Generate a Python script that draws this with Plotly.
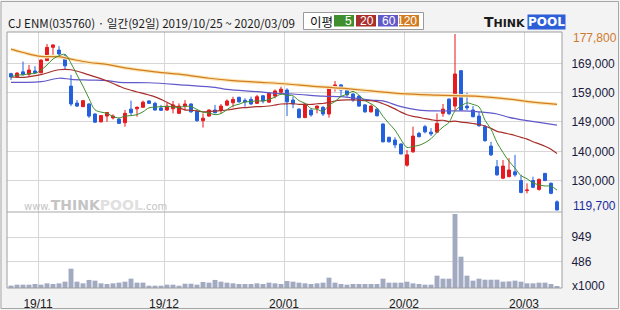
import pandas as pd
import plotly.graph_objects as go

# ---------------- data ----------------
holidays = ['2019-12-25', '2019-12-31', '2020-01-01', '2020-01-24', '2020-01-27']
dates = [d for d in pd.bdate_range('2019-10-25', '2020-03-09') if d.strftime('%Y-%m-%d') not in holidays]

opens = [164700, 163700, 165300, 164500, 165600, 165000, 169000, 173400, 172500, 170500,
         160600, 155000, 153800, 154700, 151400, 148800, 150700, 150100, 149700, 148500,
         153000, 153100, 153600, 155700, 154900, 153400, 152700, 153100, 151600, 154000,
         154700, 152300, 149200, 150700, 152700, 152700, 154300, 155100, 156900, 155900,
         156200, 154900, 157400, 155300, 157300, 158600, 159300, 156000, 153000, 150200,
         152700, 153300, 153600, 151400, 160300, 161000, 159500, 158000, 157300, 154400,
         152100, 153000, 148100, 143700, 142800, 141500, 134500, 138900, 145000, 147200,
         145400, 145400, 151600, 156300, 154000, 165700, 154000, 152700, 150700, 147200,
         140800, 134000, 130200, 130700, 132300, 129400, 126100, 129400, 126500, 131800,
         128500, 122400]
highs = [165000, 165200, 168700, 167600, 167200, 169400, 174500, 174300, 173800, 171200,
         164300, 156000, 155900, 154900, 151600, 151000, 152000, 151300, 150000, 152700,
         155800, 153900, 155800, 155900, 155400, 154400, 155100, 155700, 154900, 156000,
         154900, 152500, 151600, 152900, 154400, 154700, 156200, 157100, 157100, 156600,
         157100, 157700, 157700, 158600, 159500, 160400, 159900, 157100, 153300, 154900,
         152900, 154200, 154000, 160300, 162300, 161200, 159900, 158200, 157600, 154700,
         154500, 153300, 148300, 143900, 143700, 141700, 139500, 147200, 145500, 147800,
         146700, 151600, 154700, 156600, 177800, 165900, 158400, 154000, 152100, 147800,
         142200, 136200, 136200, 136800, 137900, 131300, 128500, 130700, 130100, 131800,
         128800, 122900]
lows = [162600, 163400, 164100, 163700, 164800, 164800, 168900, 170300, 170500, 166100,
        154000, 153700, 153700, 150100, 148500, 148600, 148800, 149600, 148100, 147200,
        151000, 150500, 153500, 154800, 152500, 152400, 152400, 151600, 151500, 152500,
        151800, 148800, 146900, 150500, 151600, 151600, 154000, 153600, 155100, 153800,
        154400, 154700, 154900, 155100, 156600, 158200, 150700, 153300, 150000, 150100,
        150500, 151600, 150700, 150200, 158800, 157100, 157100, 155400, 153800, 151800,
        151900, 150600, 142000, 142000, 140100, 138100, 134000, 138600, 143700, 145000,
        144100, 145100, 150500, 151000, 152700, 152500, 152700, 150300, 147200, 142200,
        137500, 131000, 129900, 130500, 130700, 125200, 125200, 126900, 126100, 129300,
        124900, 119700]
closes = [163600, 164900, 164400, 165900, 165000, 169200, 173400, 174200, 171200, 167300,
          154700, 154000, 155800, 150700, 148700, 150900, 151900, 150700, 148300, 151600,
          151800, 153600, 155300, 154900, 152700, 152600, 154000, 154400, 154000, 154700,
          152100, 149200, 150000, 152700, 151800, 154000, 155700, 156200, 155400, 155400,
          154700, 157100, 155700, 158200, 159000, 159600, 155400, 154700, 150200, 154700,
          151100, 154000, 151400, 160200, 161000, 159300, 157700, 156000, 154000, 152100,
          154000, 150800, 142200, 142200, 141200, 138200, 137900, 144100, 143900, 145500,
          144800, 148300, 153000, 151500, 164600, 152700, 153400, 150500, 147500, 142600,
          137900, 131300, 134200, 132900, 131300, 125500, 126300, 127200, 129800, 129400,
          125200, 119700]
volumes_k = [45, 62, 62, 62, 75, 62, 87, 75, 87, 118,
             360, 118, 87, 150, 137, 87, 75, 87, 100, 118,
             174, 100, 100, 43, 43, 43, 62, 62, 43, 80,
             80, 62, 112, 100, 150, 118, 100, 87, 75, 75,
             75, 87, 75, 100, 87, 75, 130, 118, 100, 87,
             75, 87, 100, 193, 100, 75, 62, 75, 75, 75,
             75, 75, 174, 100, 100, 100, 118, 87, 75, 62,
             62, 230, 174, 174, 1380, 584, 230, 137, 174, 155,
             155, 155, 118, 124, 137, 118, 87, 87, 100, 100,
             75, 37]

# 60 / 120-day averages (day index, price)
ma60_day = [0, 2, 5, 8, 10, 13, 16, 18, 23, 29, 34, 36, 41, 44, 47, 52, 55, 60, 62, 65, 68, 71, 75, 78, 81, 83, 86, 91]
ma60_val = [161850, 161850, 162050, 163200, 162850, 162600, 162400, 161850, 161700, 160900, 160200, 159500,
            158750, 158200, 158000, 157300, 157100, 156000, 155700, 153800, 152700, 152400, 152400, 152100,
            151400, 150300, 149200, 147700]
ma120_day = [0, 2, 5, 8, 10, 13, 16, 19, 24, 29, 33, 37, 41, 46, 50, 55, 60, 65, 71, 78, 83, 87, 91]
ma120_val = [172800, 171700, 170400, 170300, 169500, 168400, 167800, 166600, 165300, 164300, 163200, 162400,
             161900, 161300, 160600, 159900, 159000, 158100, 157600, 157200, 156300, 155300, 154600]
# early part of the 20-day average (needs history before the window)
ma20_early_day = [0, 2, 5, 8, 10, 13, 16, 18]
ma20_early_val = [163600, 163500, 164400, 166000, 166000, 164300, 162300, 160600]

price_ticks = [168060, 158490, 148920, 138950, 129370]
price_ticktext = ['169,000', '159,000', '149,000', '140,000', '130,000']
vol_ticks = [486000, 949000]
vol_ticktext = ['486', '949']
max_label, min_label = '177,800', '119,700'
title_text = 'CJ ENM(035760) · 일간(92일) 2019/10/25 ~ 2020/03/09'
ma_names = ['5', '20', '60', '120']

# ---------------- derived ----------------
idx = list(range(len(dates)))
cl = pd.Series(closes, dtype=float)
ma5 = cl.rolling(5, min_periods=1).mean()
ma20_calc = cl.rolling(20).mean()
ma20_x = ma20_early_day + list(range(19, len(closes)))
ma20_y = ma20_early_val + list(ma20_calc[19:])
volumes = [v * 1000 for v in volumes_k]

month_pos, month_txt = [], []
for i in range(1, len(dates)):
    if dates[i].month != dates[i - 1].month:
        month_pos.append(i - 0.5)
        month_txt.append(dates[i].strftime('%y/%m'))

# ---------------- styling ----------------
RED, BLUE = '#e8191e', '#2360df'
C5, C20, C60, C120 = '#3f8f2e', '#a8302c', '#6159c9', '#d27d22'
GRID = '#d6d6d6'
FONT_NUM = 'Liberation Sans'
FONT_KR = 'Noto Sans CJK KR'

W, H = 620, 310
L, R, T, B = 7, 562, 32, 288
SPLIT = 212


def px(x):
    return (x - L) / (R - L)


def py(y):
    return (B - y) / (B - T)


fig = go.Figure()
fig.add_trace(go.Scatter(x=ma120_day, y=ma120_val, mode='lines', line=dict(color='#fbe6b4', width=3.5, shape='spline'),
                         hoverinfo='skip'))
fig.add_trace(go.Scatter(x=ma120_day, y=ma120_val, mode='lines', line=dict(color=C120, width=1.2, shape='spline')))
fig.add_trace(go.Scatter(x=ma60_day, y=ma60_val, mode='lines', line=dict(color=C60, width=1.2, shape='spline')))
fig.add_trace(go.Scatter(x=ma20_x, y=ma20_y, mode='lines', line=dict(color=C20, width=1.2, shape='spline')))
fig.add_trace(go.Candlestick(x=idx, open=opens, high=highs, low=lows, close=closes,
                             increasing=dict(line=dict(color=RED, width=1), fillcolor=RED),
                             decreasing=dict(line=dict(color=BLUE, width=1), fillcolor=BLUE),
                             whiskerwidth=0, xaxis='x', yaxis='y'))
fig.add_trace(go.Scatter(x=idx, y=ma5, mode='lines', line=dict(color=C5, width=1, shape='spline')))
fig.add_trace(go.Bar(x=idx, y=volumes, marker=dict(color='#a2aac1', line=dict(width=0)), width=0.82,
                     xaxis='x2', yaxis='y2'))

xr = [(L - 11) / 6, (R - 11) / 6]
split_frac = (B - SPLIT) / (B - T)
fig.update_layout(
    width=W, height=H, margin=dict(l=L, r=W - R, t=T, b=H - B, autoexpand=False),
    paper_bgcolor='#f3f3f3', plot_bgcolor='white', showlegend=False, boxgap=0.3,
    font=dict(family=FONT_NUM, size=12, color='#1a1a40'),
    xaxis=dict(domain=[0, 1], anchor='y', range=xr, tickvals=month_pos, showticklabels=False, automargin=False,
               showgrid=True, gridcolor=GRID, gridwidth=1, zeroline=False, rangeslider=dict(visible=False), ticks=''),
    xaxis2=dict(domain=[0, 1], anchor='y2', range=xr, matches='x', tickvals=month_pos, ticktext=month_txt,
                automargin=False, showgrid=True, gridcolor=GRID, zeroline=False, ticks='outside', ticklen=5,
                tickcolor='rgba(0,0,0,0)', tickfont=dict(size=12, color='#202020')),
    yaxis=dict(domain=[split_frac, 1], anchor='x', range=[119040, 178460], side='right', automargin=False,
               tickvals=price_ticks, ticktext=price_ticktext, showgrid=True, gridcolor=GRID, zeroline=False,
               ticks='outside', ticklen=6, tickcolor='rgba(0,0,0,0)', tickfont=dict(size=12, color='#1a1a40')),
    yaxis2=dict(domain=[0, split_frac], anchor='x2', range=[0, 1417000], side='right', automargin=False,
                tickvals=vol_ticks, ticktext=vol_ticktext, showgrid=True, gridcolor=GRID, zeroline=False,
                ticks='outside', ticklen=6, tickcolor='rgba(0,0,0,0)', tickfont=dict(size=12, color='#1a1a40')),
)

shapes = [
    dict(type='rect', xref='paper', yref='paper', x0=px(1), x1=px(618.5), y0=py(308.5), y1=py(1.5),
         line=dict(color='#a6a6a6', width=1)),
    dict(type='rect', xref='paper', yref='paper', x0=0, x1=1, y0=0, y1=1, line=dict(color='#9e9e9e', width=1)),
    dict(type='line', xref='paper', yref='paper', x0=0, x1=1, y0=split_frac, y1=split_frac,
         line=dict(color='#a8a8a8', width=1)),
    dict(type='rect', xref='paper', yref='paper', x0=px(303.5), x1=px(423.5), y0=py(29.5), y1=py(12.5),
         line=dict(color='#9a9a9a', width=1), fillcolor='white'),
]
box_cols = [C5, C20, C60, C120]
box_x0 = [334, 356, 378, 399]
annotations = []
for x0, col, name in zip(box_x0, box_cols, ma_names):
    shapes.append(dict(type='rect', xref='paper', yref='paper', x0=px(x0), x1=px(x0 + 20), y0=py(26.5), y1=py(15),
                       line=dict(width=0), fillcolor=col))
    annotations.append(dict(xref='paper', yref='paper', x=px(x0 + 19.5), y=py(21), xanchor='right', yanchor='middle',
                            text=name, showarrow=False, font=dict(family=FONT_NUM, size=12, color='white')))

annotations += [
    dict(xref='paper', yref='paper', x=px(6), y=py(22.5), xanchor='left', yanchor='middle', text=title_text,
         showarrow=False, font=dict(family=FONT_KR, size=11.6, color='#1a1a1a')),
    dict(xref='paper', yref='paper', x=px(308), y=py(21), xanchor='left', yanchor='middle', text='이평',
         showarrow=False, font=dict(family=FONT_KR, size=12.5, color='#111111')),
    dict(xref='paper', yref='paper', x=px(482), y=py(21.5), xanchor='left', yanchor='middle',
         text="<b>T<span style='font-size:11px'>HINK</span></b>",
         showarrow=False, font=dict(family='DejaVu Sans', size=14, color='#1b1b1b')),
    dict(xref='paper', yref='paper', x=px(527), y=py(21.5), xanchor='left', yanchor='middle',
         text='<b>POOL</b>', bgcolor='#2c5fd8', borderpad=0,
         showarrow=False, font=dict(family='DejaVu Sans', size=12, color='white')),
    dict(xref='paper', yref='paper', x=px(22), y=py(204.5), xanchor='left', yanchor='middle',
         text="<span style='font-size:10px'>www.</span><b>THINK</b><b><span style='color:#e0e0e0'>POOL</span></b><span style='font-size:10px'>.com</span>",
         showarrow=False, font=dict(family='DejaVu Sans', size=14, color='#c4c4c4')),
    dict(xref='paper', yref='y', x=px(571), y=max(highs), xanchor='left', yanchor='middle', yshift=-4,
         text=max_label, showarrow=False, font=dict(family=FONT_NUM, size=12, color='#d07a2a')),
    dict(xref='paper', yref='y', x=px(571), y=min(lows), xanchor='left', yanchor='middle', yshift=4,
         text=min_label, showarrow=False, font=dict(family=FONT_NUM, size=12, color='#1b2b9e')),
    dict(xref='paper', yref='paper', x=px(570), y=py(286), xanchor='left', yanchor='middle',
         text='x1000', showarrow=False, font=dict(family=FONT_NUM, size=12, color='#1a1a40')),
]
fig.update_layout(shapes=shapes, annotations=annotations)

fig.write_html('out.html')
